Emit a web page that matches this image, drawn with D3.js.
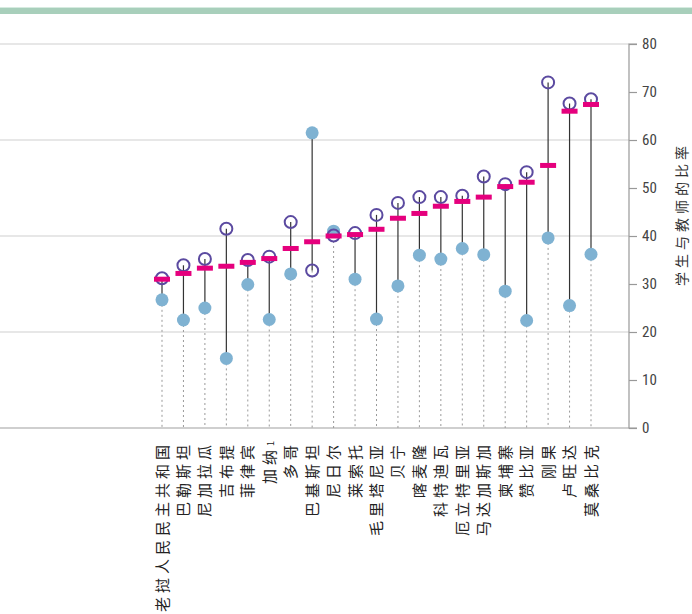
<!DOCTYPE html>
<html><head><meta charset="utf-8">
<script src="https://cdn.jsdelivr.net/npm/d3@7"></script>
<style>
html,body{margin:0;padding:0;background:#fff;}
svg{display:block;}
</style></head>
<body>
<svg id="c" width="692" height="614"></svg>
<script>
const categories = ["老挝人民民主共和国","巴勒斯坦","尼加拉瓜","吉布提","菲律宾","加纳","多哥","巴基斯坦","尼日尔","莱索托","毛里塔尼亚","贝宁","喀麦隆","科特迪瓦","厄立特里亚","马达加斯加","柬埔寨","赞比亚","刚果","卢旺达","莫桑比克"];
const footnotes = ["","","","","","1","","","","","","","","","","","","","","",""];
const hollowValues = [31.2,33.9,35.2,41.5,35.0,35.7,42.9,32.8,40.1,40.6,44.4,46.9,48.1,48.1,48.4,52.4,50.8,53.3,72.0,67.6,68.5];
const barValues    = [31.0,32.2,33.3,33.7,34.5,35.3,37.4,38.8,40.0,40.3,41.4,43.7,44.7,46.2,47.2,48.1,50.3,51.2,54.7,66.0,67.4];
const filledValues = [26.7,22.5,25.0,14.5,29.9,22.6,32.1,61.5,41.0,31.0,22.7,29.6,36.0,35.2,37.4,36.1,28.5,22.4,39.6,25.5,36.2];
const yTicks = [0,10,20,30,40,50,60,70,80];
const gridValues = [20,40,60,80];
const yTitle = "学生与教师的比率";

const svg = d3.select("#c");
const W = 692;
const axisX = 629;
const x = d3.scalePoint().domain(categories).range([162, 591]);
const y = d3.scaleLinear().domain([0, 80]).range([428, 44]);

// top band
svg.append("rect").attr("x",0).attr("y",7).attr("width",W).attr("height",1).attr("fill","#d6ebe0");
svg.append("rect").attr("x",0).attr("y",8).attr("width",W).attr("height",6).attr("fill","#a8cfbb");

// gridlines
svg.append("g").selectAll("line").data(gridValues).join("line")
  .attr("x1",0).attr("x2",axisX).attr("y1",d=>y(d)).attr("y2",d=>y(d))
  .attr("stroke","#cfcfcf").attr("stroke-width",1.2);
// baseline
svg.append("line").attr("x1",0).attr("x2",axisX).attr("y1",y(0)).attr("y2",y(0))
  .attr("stroke","#a0a0a0").attr("stroke-width",1.2);

// right axis
const axis = d3.axisRight(y).tickValues(yTicks).tickSize(8).tickPadding(5).tickFormat(d3.format("d"));
const ga = svg.append("g").attr("transform",`translate(${axisX},0)`).call(axis);
ga.select(".domain").attr("stroke","#999").attr("stroke-width",1.2).attr("d",`M8,${y(80)}H0V${y(0)}H8`);
ga.selectAll(".tick line").attr("stroke","#999").attr("stroke-width",1.2);
ga.selectAll(".tick text").attr("fill","#444")
  .style("font-family","'Liberation Sans Narrow','Roboto Condensed','DejaVu Sans Condensed',sans-serif")
  .style("font-size","15px");

// y title
svg.append("text").attr("transform",`translate(687,214) rotate(-90)`)
  .attr("text-anchor","middle").attr("fill","#333")
  .style("font-family","'Noto Sans CJK SC',sans-serif").style("font-size","14px").style("letter-spacing","4px")
  .text(yTitle);

const data = categories.map((c,i)=>({c, h:hollowValues[i], b:barValues[i], f:filledValues[i], fn:footnotes[i]}));

// dotted lines to baseline
svg.append("g").selectAll("line").data(data).join("line")
  .attr("x1",d=>x(d.c)).attr("x2",d=>x(d.c))
  .attr("y1",d=>y(Math.min(d.h,d.b,d.f))).attr("y2",y(0))
  .attr("stroke","#999").attr("stroke-width",1).attr("stroke-dasharray","2,3");
// connecting lines
svg.append("g").selectAll("line").data(data).join("line")
  .attr("x1",d=>x(d.c)).attr("x2",d=>x(d.c))
  .attr("y1",d=>y(Math.min(d.h,d.b,d.f))).attr("y2",d=>y(Math.max(d.h,d.b,d.f)))
  .attr("stroke","#333").attr("stroke-width",1.2);
// filled circles
svg.append("g").selectAll("circle").data(data).join("circle")
  .attr("cx",d=>x(d.c)).attr("cy",d=>y(d.f)).attr("r",6.5).attr("fill","#7fb2d2");
// hollow circles
svg.append("g").selectAll("circle").data(data).join("circle")
  .attr("cx",d=>x(d.c)).attr("cy",d=>y(d.h)).attr("r",6).attr("fill","none")
  .attr("stroke","#5b4aa0").attr("stroke-width",2);
// pink bars
svg.append("g").selectAll("rect").data(data).join("rect")
  .attr("x",d=>x(d.c)-8).attr("y",d=>y(d.b)-2.5).attr("width",16).attr("height",5).attr("fill","#e5007d");

// category labels
const lab = svg.append("g").selectAll("text").data(data).join("text")
  .attr("transform",d=>`translate(${x(d.c)+5.5},441) rotate(-90)`)
  .attr("text-anchor","end").attr("fill","#222")
  .style("font-family","'Noto Sans CJK SC',sans-serif").style("font-size","15px").style("letter-spacing","4px");
lab.append("tspan").text(d=>d.c);
lab.filter(d=>d.fn).append("tspan").attr("dy",-1).style("font-size","9px").style("letter-spacing","0px").text(d=>d.fn);
</script>
</body></html>
